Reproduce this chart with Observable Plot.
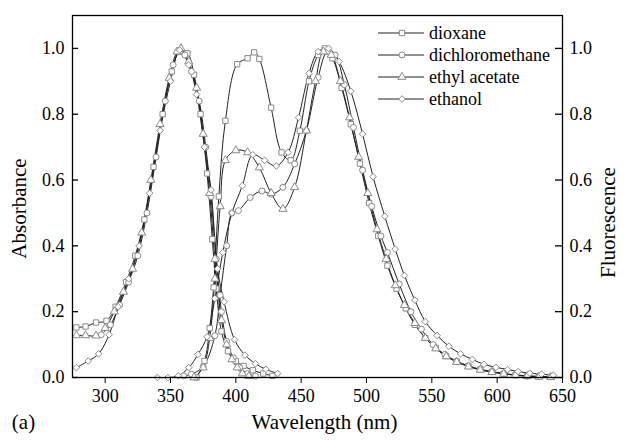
<!DOCTYPE html>
<html><head><meta charset="utf-8">
<script src="https://cdn.jsdelivr.net/npm/d3@7"></script>
<script src="https://cdn.jsdelivr.net/npm/@observablehq/plot@0.6"></script>
<style>body{margin:0;background:#fff}#chart{width:623px;height:440px}svg text{font-family:"Liberation Serif","DejaVu Serif",serif}</style>
</head><body><div id="chart"></div>
<script>
const solvents = ["dioxane", "dichloromethane", "ethyl acetate", "ethanol"];
const xTicks = [300, 350, 400, 450, 500, 550, 600, 650];
const yTicks = [0, 0.2, 0.4, 0.6, 0.8, 1.0];

// absorption
const dioxaneAbsWl = [278, 285, 293, 301, 308, 316, 323, 330, 337, 344, 351, 357, 363, 368, 373, 378, 382, 385, 389, 394, 400, 406, 413, 421, 428];
const dioxaneAbs   = [0.152, 0.155, 0.167, 0.172, 0.215, 0.29, 0.37, 0.48, 0.64, 0.80, 0.93, 0.99, 0.985, 0.92, 0.80, 0.62, 0.42, 0.27, 0.14, 0.08, 0.05, 0.035, 0.022, 0.012, 0.005];
const dcmAbsWl = [297, 304, 311, 318, 325, 332, 339, 346, 352, 357, 361, 366, 372, 377, 381, 385, 389, 393, 398, 403, 409, 415];
const dcmAbs   = [0.13, 0.16, 0.22, 0.29, 0.37, 0.50, 0.67, 0.84, 0.95, 0.99, 0.98, 0.93, 0.84, 0.70, 0.55, 0.36, 0.20, 0.11, 0.06, 0.03, 0.012, 0.004];
const eaAbsWl = [278, 285, 293, 300, 307, 314, 321, 328, 335, 342, 349, 355, 358, 364, 370, 375, 380, 384, 389, 393, 397, 401, 405, 410];
const eaAbs   = [0.128, 0.128, 0.127, 0.15, 0.20, 0.26, 0.33, 0.44, 0.60, 0.77, 0.91, 0.99, 1.0, 0.96, 0.88, 0.74, 0.56, 0.36, 0.174, 0.10, 0.055, 0.03, 0.012, 0.004];
const ethAbsWl = [278, 287, 295, 303, 310, 318, 326, 334, 342, 350, 357, 364, 370, 376, 381, 386, 391, 399, 407, 415, 423, 432];
const ethAbs   = [0.03, 0.05, 0.072, 0.13, 0.215, 0.30, 0.40, 0.56, 0.75, 0.90, 0.995, 0.95, 0.86, 0.70, 0.57, 0.33, 0.23, 0.115, 0.068, 0.042, 0.025, 0.012];

// fluorescence
const dioxaneFlWl = [370, 376, 380, 383, 387, 392, 401, 409, 414, 418, 427, 435, 442, 449, 456, 463, 468, 474, 481, 488, 495, 502, 509, 516, 523, 530, 537, 545, 553, 561, 569, 578, 587, 596, 605, 614, 623, 632, 641];
const dioxaneFl   = [0.0, 0.05, 0.15, 0.274, 0.55, 0.78, 0.952, 0.97, 0.988, 0.968, 0.82, 0.684, 0.66, 0.75, 0.90, 0.98, 1.0, 0.97, 0.88, 0.77, 0.65, 0.53, 0.43, 0.34, 0.27, 0.21, 0.16, 0.12, 0.09, 0.065, 0.048, 0.035, 0.024, 0.017, 0.011, 0.007, 0.004, 0.003, 0.002];
const dcmFlWl = [360, 366, 375, 384, 388, 393, 397, 402, 411, 420, 427, 436, 445, 454, 463, 470, 476, 483, 490, 497, 504, 511, 516, 525, 534, 542, 551, 560, 569, 578, 587, 596, 605, 614, 623, 632, 641];
const dcmFl   = [0.005, 0.01, 0.033, 0.127, 0.25, 0.40, 0.50, 0.507, 0.547, 0.567, 0.557, 0.578, 0.649, 0.75, 0.912, 0.99, 0.98, 0.89, 0.76, 0.63, 0.52, 0.43, 0.38, 0.284, 0.20, 0.147, 0.10, 0.07, 0.05, 0.035, 0.025, 0.018, 0.012, 0.008, 0.005, 0.003, 0.002];
const eaFlWl = [368, 375, 380, 384, 388, 392, 400, 409, 418, 427, 436, 445, 454, 461, 467, 473, 480, 487, 494, 501, 508, 515, 522, 529, 537, 545, 553, 561, 569, 578, 587, 596, 605, 614, 623, 632, 641];
const eaFl   = [0.0, 0.03, 0.12, 0.30, 0.52, 0.66, 0.69, 0.684, 0.638, 0.56, 0.512, 0.578, 0.75, 0.90, 0.99, 0.98, 0.90, 0.79, 0.67, 0.56, 0.45, 0.36, 0.28, 0.22, 0.165, 0.12, 0.088, 0.064, 0.047, 0.033, 0.023, 0.016, 0.011, 0.007, 0.004, 0.002, 0.001];
const ethFlWl = [340, 348, 356, 364, 371, 378, 384, 390, 397, 405, 413, 422, 431, 440, 448, 456, 463, 471, 479, 488, 497, 505, 514, 522, 529, 537, 545, 554, 563, 572, 581, 590, 599, 608, 616, 625, 634, 643];
const ethFl   = [0.0, 0.0, 0.005, 0.03, 0.07, 0.124, 0.24, 0.38, 0.50, 0.583, 0.677, 0.66, 0.643, 0.684, 0.79, 0.924, 0.99, 1.0, 0.96, 0.87, 0.74, 0.61, 0.49, 0.39, 0.31, 0.235, 0.17, 0.128, 0.095, 0.072, 0.055, 0.04, 0.031, 0.024, 0.018, 0.013, 0.01, 0.007];

const rows = [];
function add(name, part, wl, v) { wl.forEach((w, i) => rows.push({solvent: name, key: name + "-" + part, wl: w, v: v[i]})); }
add("dioxane", "abs", dioxaneAbsWl, dioxaneAbs);
add("dichloromethane", "abs", dcmAbsWl, dcmAbs);
add("ethyl acetate", "abs", eaAbsWl, eaAbs);
add("ethanol", "abs", ethAbsWl, ethAbs);
add("dioxane", "fl", dioxaneFlWl, dioxaneFl);
add("dichloromethane", "fl", dcmFlWl, dcmFl);
add("ethyl acetate", "fl", eaFlWl, eaFl);
add("ethanol", "fl", ethFlWl, ethFl);

const FONT = "Liberation Serif, DejaVu Serif, serif";
const W = 623, H = 440, mL = 72, mR = 61, mT = 15, mB = 63;
const fw = W - mL - mR;
const symbolNames = ["square", "circle", "triangle", "diamond2"];

const plot = Plot.plot({
  width: W, height: H,
  marginLeft: mL, marginRight: mR, marginTop: mT, marginBottom: mB,
  style: {fontFamily: FONT, fontSize: "18px", color: "#000", background: "#fff"},
  x: {domain: [275, 650]},
  y: {domain: [0, 1.1]},
  symbol: {domain: solvents, range: symbolNames},
  marks: [
    Plot.line(rows, {x: "wl", y: "v", z: "key", curve: "catmull-rom", stroke: "#222", strokeWidth: 1}),
    Plot.dot(rows, {x: "wl", y: "v", symbol: "solvent", r: 3, fill: "white", stroke: "#8a8a8a", strokeWidth: 1}),
    Plot.frame({stroke: "#000", strokeWidth: 1.3}),
    Plot.axisX({ticks: xTicks, tickSize: 6, tickPadding: 6, tickFormat: d => String(d), label: null, fontSize: 18, fontFamily: FONT}),
    Plot.axisY({anchor: "left", ticks: yTicks, tickSize: 0, tickPadding: 8, tickFormat: ".1f", label: null, fontSize: 18, fontFamily: FONT}),
    Plot.axisY({anchor: "right", ticks: yTicks, tickSize: 0, tickPadding: 7, tickFormat: ".1f", label: null, fontSize: 18, fontFamily: FONT}),
    Plot.tickY(yTicks, {y: d => d, insetRight: fw - 6, stroke: "#000", strokeWidth: 1.3}),
    Plot.tickY(yTicks, {y: d => d, insetLeft: fw - 7, stroke: "#000", strokeWidth: 1.3}),
    Plot.text(["Absorbance"], {text: d => d, frameAnchor: "left", textAnchor: "middle", rotate: -90, dx: -53, dy: 12, fontSize: 21, fontFamily: FONT}),
    Plot.text(["Fluorescence"], {text: d => d, frameAnchor: "right", textAnchor: "middle", rotate: -90, dx: 46, dy: 26, fontSize: 21, fontFamily: FONT}),
    Plot.text(["Wavelength (nm)"], {text: d => d, frameAnchor: "bottom", textAnchor: "middle", dx: 7, dy: 51, fontSize: 21, fontFamily: FONT}),
    Plot.text(["(a)"], {text: d => d, frameAnchor: "bottom-left", textAnchor: "middle", dx: -49, dy: 51, fontSize: 21, fontFamily: FONT})
  ]
});

// legend inside the frame
const svg = d3.select(plot);
const d3sym = {square: d3.symbolSquare, circle: d3.symbolCircle, triangle: d3.symbolTriangle, diamond2: d3.symbolDiamond2};
const lg = svg.append("g").attr("font-family", FONT).attr("font-size", 18).attr("text-anchor", "start");
solvents.forEach((s, i) => {
  const y = 33 + 22 * i;
  lg.append("line").attr("x1", 378).attr("x2", 424).attr("y1", y).attr("y2", y).attr("stroke", "#222");
  lg.append("path").attr("transform", `translate(402,${y})`)
    .attr("d", d3.symbol(d3sym[symbolNames[i]], Math.PI * 9)())
    .attr("fill", "white").attr("stroke", "#8a8a8a");
  lg.append("text").attr("x", 429).attr("y", y).attr("dy", "0.35em").text(s);
});

document.getElementById("chart").appendChild(plot);
</script></body></html>
